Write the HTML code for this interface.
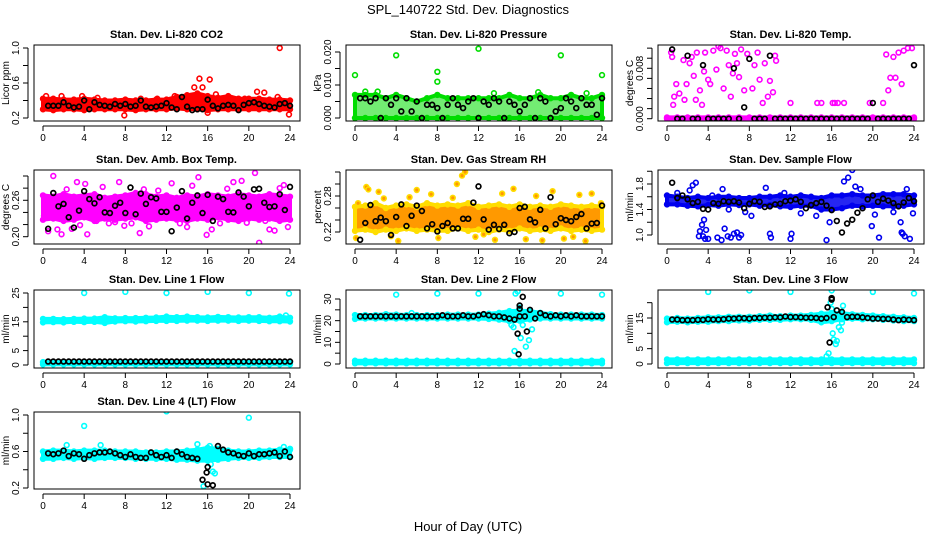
<!DOCTYPE html>
<html><head><meta charset="utf-8"><title>SPL_140722 Std. Dev. Diagnostics</title>
<style>
html,body{margin:0;padding:0;background:#fff;}
svg{display:block;font-family:"Liberation Sans",sans-serif;}
</style></head>
<body>
<svg id="chart" width="936" height="540" viewBox="0 0 936 540" xmlns="http://www.w3.org/2000/svg">
<text x="468" y="14" text-anchor="middle" font-size="13">SPL_140722  Std. Dev. Diagnostics</text>
<text x="468" y="531" text-anchor="middle" font-size="13">Hour of Day (UTC)</text>
</svg>
<script>
// ---- data (hourly bands lo/hi at h=0..24, black series at h=0.5..24 step 0.5, extra colored points x/y) ----
const hoursBand = [0,1,2,3,4,5,6,7,8,9,10,11,12,13,14,15,16,17,18,19,20,21,22,23,24];
const xTicks = [0,4,8,12,16,20,24];

const co2Lo = [0.30,0.29,0.30,0.30,0.29,0.30,0.30,0.30,0.30,0.29,0.30,0.30,0.30,0.31,0.30,0.30,0.29,0.30,0.30,0.30,0.30,0.30,0.30,0.30,0.30];
const co2Hi = [0.42,0.42,0.41,0.41,0.42,0.41,0.40,0.40,0.41,0.40,0.40,0.41,0.41,0.44,0.46,0.48,0.45,0.43,0.45,0.42,0.42,0.42,0.41,0.41,0.40];
const co2ExX = [0.3,1.8,3.8,7.9,9.5,12.8,14.7,15.2,15.5,16.2,16.0,16.8,19.6,20.8,21.5,23.0,23.9,22.8,11.1,5.3];
const co2ExY = [0.45,0.45,0.45,0.23,0.42,0.45,0.55,0.65,0.55,0.64,0.26,0.47,0.42,0.50,0.49,1.0,0.24,0.44,0.42,0.43];
const co2Black = [0.34,0.34,0.34,0.38,0.34,0.32,0.33,0.40,0.30,0.38,0.35,0.34,0.33,0.36,0.34,0.36,0.33,0.34,0.40,0.33,0.32,0.33,0.34,0.37,0.32,0.30,0.44,0.33,0.29,0.30,0.30,0.41,0.34,0.31,0.34,0.35,0.34,0.29,0.35,0.37,0.38,0.36,0.34,0.33,0.32,0.36,0.37,0.34];

const presLo = [0,0,0,0,0,0,0,0,0,0,0,0,0,0,0,0,0,0,0,0,0,0,0,0,0];
const presHi = [0.007,0.007,0.007,0.006,0.007,0.006,0.005,0.006,0.007,0.006,0.006,0.006,0.006,0.006,0.006,0.007,0.006,0.006,0.007,0.006,0.006,0.007,0.006,0.006,0.007];
const presExX = [0,4,8,8,12,20,24,1,2.2,13.5,17.8,22.5];
const presExY = [0.013,0.019,0.014,0.011,0.021,0.019,0.013,0.008,0.008,0.0075,0.0078,0.0075];
const presBlack = [0.006,0.006,0.005,0.006,0.000,0.006,0.004,0.006,0.002,0.006,0.002,0.005,0.000,0.004,0.004,0.003,0.000,0.004,0.006,0.004,0.003,0.005,0.006,0.000,0.005,0.004,0.006,0.005,0.000,0.005,0.004,0.002,0.004,0.006,0.000,0.006,0.005,0.000,0.002,0.003,0.006,0.005,0.003,0.006,0.004,0.004,0.001,0.006];

const tempLo = [0,0,0,0,0,0,0,0,0,0,0,0,0,0,0,0,0,0,0,0,0,0,0,0,0];
const tempHi = [0.0002,0.0002,0.0002,0.0002,0.0002,0.0002,0.0002,0.0002,0.0002,0.0002,0.0002,0.0002,0.0002,0.0002,0.0002,0.0002,0.0002,0.0002,0.0002,0.0002,0.0002,0.0002,0.0002,0.0002,0.0002];
const tempExX = [0.4,0.5,0.6,0.7,0.9,1.2,1.6,1.7,1.9,2.2,2.4,2.6,2.8,2.9,3.2,3.4,3.6,3.7,4.0,4.2,4.5,4.8,5.0,5.2,5.5,5.8,6.0,6.2,6.4,6.6,6.8,7.0,7.2,7.5,7.8,8.3,8.5,8.8,9.0,9.3,9.5,9.8,10.0,10.3,10.5,10.6,12.0,14.6,15.0,16.1,16.3,16.6,17.2,19.7,21.0,21.3,21.5,21.7,22.0,22.2,22.5,22.8,23.0,23.4,23.8];
const tempExY = [0.0105,0.0098,0.0022,0.0035,0.0055,0.004,0.0093,0.003,0.0055,0.0088,0.0098,0.0068,0.003,0.0105,0.0045,0.0022,0.0075,0.0105,0.0062,0.0055,0.0108,0.0078,0.0115,0.0112,0.0048,0.0108,0.0085,0.0035,0.0072,0.0103,0.0088,0.0066,0.011,0.0045,0.0103,0.0048,0.0085,0.0105,0.0062,0.0025,0.0088,0.0035,0.006,0.0042,0.010,0.0092,0.0025,0.0025,0.0025,0.0025,0.0025,0.0025,0.0025,0.0025,0.0025,0.0102,0.0045,0.0065,0.0098,0.0065,0.0105,0.0055,0.0108,0.0112,0.0112];
const tempBlack = [0.011,0,0,0.010,0,0,0.0085,0,0,0,0,0,0.008,0,0.0018,0.0095,0,0,0,0.010,0,0,0,0,0,0,0,0,0,0,0,0,0,0,0,0,0,0,0,0.0025,0,0,0,0,0,0,0,0.0085];

const boxLo = [0.228,0.230,0.226,0.228,0.232,0.226,0.230,0.228,0.230,0.232,0.226,0.228,0.230,0.228,0.226,0.230,0.228,0.232,0.228,0.226,0.230,0.228,0.230,0.226,0.228];
const boxHi = [0.268,0.266,0.270,0.266,0.268,0.270,0.264,0.266,0.268,0.272,0.270,0.266,0.268,0.264,0.268,0.266,0.270,0.268,0.266,0.270,0.268,0.266,0.270,0.268,0.266];
const boxExX = [0.1,0.5,1.0,1.4,1.8,2.3,2.8,3.3,3.6,4.1,4.3,5.2,5.8,6.4,7.0,7.4,7.9,8.6,9.4,9.8,10.3,11.2,11.7,12.5,13.3,14.0,14.5,15.1,15.9,16.4,17.2,17.9,18.5,19.3,19.8,20.6,21.0,21.6,22.0,22.5,23.0,23.4,23.8];
const boxExY = [0.234,0.209,0.300,0.212,0.204,0.278,0.213,0.290,0.219,0.287,0.204,0.226,0.282,0.222,0.224,0.290,0.218,0.222,0.206,0.278,0.217,0.276,0.240,0.288,0.222,0.216,0.284,0.298,0.203,0.212,0.222,0.279,0.290,0.292,0.223,0.305,0.190,0.226,0.212,0.210,0.280,0.285,0.216];
const boxBlack = [0.213,0.272,0.250,0.254,0.232,0.215,0.243,0.275,0.262,0.255,0.265,0.240,0.239,0.251,0.256,0.239,0.281,0.237,0.271,0.254,0.265,0.263,0.241,0.241,0.209,0.248,0.275,0.230,0.256,0.268,0.239,0.269,0.226,0.266,0.262,0.241,0.240,0.273,0.266,0.250,0.278,0.279,0.256,0.249,0.250,0.270,0.244,0.282];

const rhLo = [0.222,0.224,0.220,0.224,0.222,0.226,0.222,0.224,0.222,0.222,0.226,0.222,0.224,0.220,0.224,0.222,0.226,0.222,0.224,0.222,0.226,0.222,0.224,0.222,0.224];
const rhHi = [0.262,0.264,0.268,0.260,0.264,0.266,0.262,0.268,0.264,0.266,0.264,0.268,0.262,0.264,0.266,0.262,0.266,0.262,0.264,0.262,0.266,0.264,0.262,0.264,0.262];
const rhExX = [0.1,0.3,1.1,1.3,2.3,2.8,3.5,4.2,5.3,6.0,7.4,8.1,9.5,9.9,10.4,10.7,11.7,12.5,13.6,14.3,15.4,16.6,17.6,18.2,19.2,20.3,21.2,21.8,22.4,23.0,23.9];
const rhExY = [0.210,0.268,0.295,0.291,0.287,0.276,0.213,0.205,0.278,0.290,0.283,0.210,0.277,0.300,0.314,0.320,0.212,0.216,0.207,0.284,0.292,0.208,0.280,0.206,0.288,0.209,0.212,0.282,0.205,0.284,0.268];
const rhBlack = [0.207,0.235,0.265,0.238,0.244,0.238,0.215,0.245,0.266,0.230,0.247,0.264,0.255,0.226,0.233,0.221,0.230,0.235,0.226,0.226,0.242,0.242,0.269,0.296,0.241,0.224,0.232,0.225,0.232,0.218,0.220,0.260,0.262,0.241,0.236,0.257,0.226,0.278,0.233,0.243,0.240,0.238,0.245,0.250,0.226,0.234,0.235,0.264];

const flowLo = [1.48,1.48,1.46,1.45,1.47,1.46,1.48,1.47,1.48,1.46,1.47,1.45,1.44,1.46,1.46,1.40,1.40,1.42,1.46,1.45,1.46,1.45,1.45,1.46,1.48];
const flowHi = [1.62,1.60,1.58,1.60,1.58,1.60,1.60,1.58,1.58,1.60,1.60,1.62,1.60,1.62,1.60,1.58,1.62,1.62,1.64,1.62,1.62,1.64,1.64,1.64,1.62];
const flowExX = [1.0,2.2,2.5,2.8,3.1,3.2,3.4,3.5,3.6,3.7,3.8,4.0,4.9,5.3,5.6,5.9,6.2,6.5,6.8,7.0,7.2,6.0,5.4,7.6,8.2,9.6,10.0,10.1,12.0,12.1,14.5,15.5,15.8,17.2,17.6,18.0,18.3,18.8,19.9,20.2,20.6,22.0,22.7,22.8,22.9,23.1,23.3,23.6,23.9,4.4,11.4,13.0];
const flowExY = [1.66,1.70,1.78,1.82,0.98,1.06,1.16,0.98,1.24,0.94,1.08,0.94,0.96,0.92,1.10,0.98,0.96,1.02,1.04,0.96,1.00,1.40,1.72,1.36,1.30,1.74,1.02,0.96,0.94,1.02,1.30,0.92,1.20,1.84,1.90,2.02,1.76,1.72,1.14,1.32,0.96,1.36,1.20,1.04,1.02,0.98,1.72,0.94,1.34,1.62,1.66,1.34];
const flowBlack = [1.82,1.58,1.62,1.56,1.50,1.52,1.41,1.40,1.50,1.49,1.53,1.52,1.53,1.51,1.42,1.49,1.53,1.52,1.44,1.45,1.48,1.49,1.53,1.54,1.56,1.52,1.42,1.47,1.50,1.52,1.46,1.39,1.22,1.04,1.18,1.24,1.35,1.42,1.56,1.62,1.52,1.57,1.54,1.50,1.45,1.51,1.58,1.53];

const l1Lo = [14.8,14.9,14.8,15.0,14.9,15.0,14.6,15.1,15.2,15.1,15.2,15.3,15.3,15.3,15.4,15.4,15.3,15.4,15.4,15.3,15.4,15.3,15.2,15.2,15.1];
const l1Hi = [16.0,16.0,15.9,16.0,16.1,16.1,16.6,16.2,16.3,16.3,16.4,16.5,16.8,16.6,16.8,16.6,16.5,16.7,16.6,16.5,16.6,16.6,16.4,16.8,16.4];
const l1BaseLo = [0.2,0.2,0.2,0.2,0.2,0.2,0.2,0.2,0.2,0.2,0.2,0.2,0.2,0.2,0.2,0.2,0.2,0.2,0.2,0.2,0.2,0.2,0.2,0.2,0.2];
const l1BaseHi = [1.0,1.0,1.0,1.0,1.0,1.0,1.0,1.0,1.0,1.0,1.0,1.0,1.0,1.0,1.0,1.0,1.0,1.0,1.0,1.0,1.0,1.0,1.0,1.0,1.0];
const l1ExX = [4,8,12,16,20,23.9,23.6];
const l1ExY = [25.0,25.4,25.0,25.4,25.0,24.8,17.2];
const l1Black = [1.2,1.2,1.2,1.2,1.2,1.2,1.2,1.2,1.2,1.2,1.2,1.2,1.2,1.2,1.2,1.2,1.2,1.2,1.2,1.2,1.2,1.2,1.2,1.2,1.2,1.2,1.2,1.2,1.2,1.2,1.2,1.2,1.2,1.2,1.2,1.2,1.2,1.2,1.2,1.2,1.2,1.2,1.2,1.2,1.2,1.2,1.2,1.2];

const l2Lo = [20.8,21.0,21.0,21.0,21.0,21.0,21.0,21.0,21.0,21.0,21.0,21.0,21.0,20.8,20.5,19.8,20.0,20.6,21.0,21.0,21.0,21.0,21.0,21.0,21.0];
const l2Hi = [22.6,22.6,22.6,23.0,22.8,22.6,22.6,22.6,22.6,22.8,22.8,22.8,22.8,23.2,23.6,24.4,24.6,24.4,23.6,23.0,22.8,22.8,22.8,22.8,22.6];
const l2BaseLo = [0.3,0.3,0.3,0.3,0.3,0.3,0.3,0.3,0.3,0.3,0.3,0.3,0.3,0.3,0.3,0.3,0.3,0.3,0.3,0.3,0.3,0.3,0.3,0.3,0.3];
const l2BaseHi = [1.5,1.5,1.5,1.5,1.5,1.5,1.5,1.5,1.5,1.5,1.5,1.5,1.5,1.5,1.5,1.5,1.5,1.5,1.5,1.5,1.5,1.5,1.5,1.5,1.5];
const l2ExX = [4,8,12,15.6,15.8,16.0,16.3,16.6,16.9,17.2,15.5,15.2,15.4,16.1,20,24,5.5];
const l2ExY = [32,32.5,32.5,32.5,33.5,26,18,8,11,16,6,18,17,12,32.5,32,23.5];
const l2Black = [22,22,22,22,22,22,22,22,22,22,22,22,22,22,22,22,22.5,22,22,22,22.5,22,22,22.5,23,22.5,22,22,21.5,21,20.5,22,22,25,21,23.5,22.5,22,22.5,22,22.5,22,22.5,22,22,22,22,22];
const l2BkX = [15.8,15.9,16.0,16.0,16.3,16.7];
const l2BkY = [14,4.5,27,25.5,31,15];

const l3Lo = [13.6,13.8,13.6,13.8,13.8,14.0,14.0,14.2,14.2,14.4,14.4,14.4,14.6,14.6,14.4,13.6,14.0,14.6,14.8,14.6,14.6,14.4,14.2,14.0,14.0];
const l3Hi = [14.8,15.0,14.8,15.0,15.2,15.2,15.4,15.4,15.4,15.6,15.8,15.6,15.8,15.8,16.0,16.4,16.6,16.6,16.2,16.0,15.8,15.6,15.4,15.2,15.0];
const l3BaseLo = [0.3,0.3,0.3,0.3,0.3,0.3,0.3,0.3,0.3,0.3,0.3,0.3,0.3,0.3,0.3,0.3,0.3,0.3,0.3,0.3,0.3,0.3,0.3,0.3,0.3];
const l3BaseHi = [1.5,1.5,1.5,1.5,1.5,1.5,1.5,1.5,1.5,1.5,1.5,1.5,1.5,1.5,1.5,1.5,1.5,1.5,1.5,1.5,1.5,1.5,1.5,1.5,1.5];
const l3ExX = [4,8,12,16,20,24,15.5,15.7,16.1,16.2,16.4,16.5,16.7,16.9,17.0,17.1,15.9,16.0];
const l3ExY = [23.5,24,23.5,24,23.5,23,2.5,3.5,10,8,6.5,7.5,12,11,13.5,19,20,18];
const l3Black = [14.5,14.5,14.3,14.3,14.3,14.4,14.4,14.6,14.5,14.5,14.6,14.8,14.8,14.9,14.9,14.8,15.0,15.0,15.1,15.1,15.2,15.2,15.5,15.3,15.3,15.2,15.1,15.1,15.0,14.8,15,21.5,17.5,17,15.3,15.4,15.4,15.2,15.0,14.8,14.8,14.7,14.7,14.5,14.3,14.5,14.4,14.3];
const l3BkX = [15.6,15.8,16.0,16.2];
const l3BkY = [18.5,7,21,15.3];

const l4Lo = [0.52,0.52,0.53,0.52,0.53,0.52,0.53,0.53,0.53,0.52,0.52,0.52,0.52,0.51,0.51,0.50,0.50,0.51,0.52,0.53,0.53,0.53,0.54,0.54,0.54];
const l4Hi = [0.60,0.61,0.61,0.60,0.61,0.61,0.61,0.60,0.60,0.60,0.59,0.59,0.60,0.60,0.61,0.62,0.64,0.63,0.61,0.60,0.60,0.61,0.61,0.62,0.62];
const l4ExX = [4,12,20,2.3,5.6,15.0,15.6,16.3,16.5,16.7,15.8,16.2,23.4,24.0];
const l4ExY = [0.88,1.04,0.97,0.67,0.67,0.68,0.22,0.46,0.38,0.36,0.60,0.66,0.65,0.63];
const l4Black = [0.58,0.57,0.58,0.61,0.55,0.58,0.57,0.52,0.56,0.58,0.59,0.59,0.60,0.58,0.56,0.54,0.57,0.54,0.53,0.53,0.59,0.56,0.54,0.56,0.53,0.60,0.57,0.54,0.53,0.52,0.29,0.24,0.23,0.66,0.62,0.59,0.58,0.56,0.55,0.58,0.55,0.57,0.57,0.58,0.59,0.55,0.60,0.54];
const l4BkX = [15.9,16.0];
const l4BkY = [0.37,0.43];

// axis tick arrays
const co2Ticks=[0.2,0.4,0.6,0.8,1.0], co2Labels=["0.2","","0.6","","1.0"];
const presTicks=[0,0.005,0.01,0.015,0.02], presLabels=["0.000","","0.010","","0.020"];
const tempTicks=[0,0.0016,0.0032,0.0048,0.0064,0.008,0.0096,0.0112], tempLabels=["0.000","","","","","0.008","",""];
const boxTicks=[0.20,0.22,0.24,0.26,0.28,0.30], boxLabels=["0.20","","","0.26","",""];
const rhTicks=[0.22,0.24,0.26,0.28,0.30,0.32], rhLabels=["0.22","","","0.28","",""];
const flowTicks=[1.0,1.2,1.4,1.6,1.8,2.0], flowLabels=["1.0","","1.4","","1.8",""];
const l1Ticks=[0,5,10,15,20,25], l1Labels=["0","5","","15","","25"];
const l2Ticks=[0,5,10,15,20,25,30], l2Labels=["0","","10","","20","","30"];
const l3Ticks=[0,5,10,15,20], l3Labels=["0","5","","15",""];
const l4Ticks=[0.2,0.4,0.6,0.8,1.0], l4Labels=["0.2","","0.6","","1.0"];

// ---- layout ----
const colX0=[43,355,667], XW=247;
const rows=[[45,121],[170,244],[290,368],[412,489]];
const panels=[
 {name:"co2",title:"Stan. Dev. Li-820 CO2",yl:"Licor ppm",c:0,r:0,v1:0.2,p1:118,v2:1.0,p2:48,col:"#ff0000",bands:[[co2Lo,co2Hi]],ex:[co2ExX,co2ExY],bk:co2Black,t:co2Ticks,tl:co2Labels},
 {name:"pressure",title:"Stan. Dev. Li-820 Pressure",yl:"kPa",c:1,r:0,v1:0,p1:118,v2:0.02,p2:52,col:"#00dd00",op:0.55,bands:[[presLo,presHi]],ex:[presExX,presExY],bk:presBlack,t:presTicks,tl:presLabels},
 {name:"temp",title:"Stan. Dev. Li-820 Temp.",yl:"degrees C",c:2,r:0,v1:0,p1:118.7,v2:0.008,p2:68.3,col:"#ff00ff",bands:[[tempLo,tempHi]],ex:[tempExX,tempExY],bk:tempBlack,t:tempTicks,tl:tempLabels},
 {name:"box-temp",title:"Stan. Dev. Amb. Box Temp.",yl:"degrees C",c:0,r:1,v1:0.20,p1:236.7,v2:0.30,p2:176,col:"#ff00ff",bands:[[boxLo,boxHi]],ex:[boxExX,boxExY],bk:boxBlack,t:boxTicks,tl:boxLabels},
 {name:"rh",title:"Stan. Dev. Gas Stream RH",yl:"percent",c:1,r:1,v1:0.22,p1:232,v2:0.28,p2:196,col:"#ff9900",ring:"#ffdd00",bands:[[rhLo,rhHi]],ex:[rhExX,rhExY],bk:rhBlack,t:rhTicks,tl:rhLabels},
 {name:"sample-flow",title:"Stan. Dev. Sample Flow",yl:"ml/min",c:2,r:1,v1:1.0,p1:235,v2:1.8,p2:184,col:"#0000ee",op:0.85,bands:[[flowLo,flowHi]],ex:[flowExX,flowExY],bk:flowBlack,t:flowTicks,tl:flowLabels},
 {name:"line1",title:"Stan. Dev. Line 1 Flow",yl:"ml/min",c:0,r:2,v1:0,p1:365,v2:25,p2:293,col:"#00ffff",bands:[[l1Lo,l1Hi],[l1BaseLo,l1BaseHi]],ex:[l1ExX,l1ExY],bk:l1Black,t:l1Ticks,tl:l1Labels},
 {name:"line2",title:"Stan. Dev. Line 2 Flow",yl:"ml/min",c:1,r:2,v1:0,p1:364,v2:30,p2:299,col:"#00ffff",bands:[[l2Lo,l2Hi],[l2BaseLo,l2BaseHi]],ex:[l2ExX,l2ExY],bk:l2Black,bkx:l2BkX,bky:l2BkY,t:l2Ticks,tl:l2Labels},
 {name:"line3",title:"Stan. Dev. Line 3 Flow",yl:"ml/min",c:2,r:2,v1:0,p1:364,v2:15,p2:318,col:"#00ffff",bands:[[l3Lo,l3Hi],[l3BaseLo,l3BaseHi]],ex:[l3ExX,l3ExY],bk:l3Black,bkx:l3BkX,bky:l3BkY,t:l3Ticks,tl:l3Labels},
 {name:"line4",title:"Stan. Dev. Line 4 (LT) Flow",yl:"ml/min",c:0,r:3,v1:0.2,p1:488,v2:1.0,p2:415,col:"#00ffff",bands:[[l4Lo,l4Hi]],ex:[l4ExX,l4ExY],bk:l4Black,bkx:l4BkX,bky:l4BkY,t:l4Ticks,tl:l4Labels}
];
const NS="http://www.w3.org/2000/svg";
const svg=document.getElementById("chart");
function mk(tag,attrs,parent){const e=document.createElementNS(NS,tag);for(const k in attrs)e.setAttribute(k,attrs[k]);(parent||svg).appendChild(e);return e;}
panels.forEach(p=>{
  const x0=colX0[p.c], top=rows[p.r][0], bot=rows[p.r][1];
  const xs=h=>x0+h/24*XW;
  const ys=v=>p.p1+(v-p.v1)*(p.p2-p.p1)/(p.v2-p.v1);
  const g=mk("g",{});
  
  
  const clip=mk("clipPath",{id:"clip-"+p.name},g);
  mk("rect",{x:x0-9,y:top,width:XW+19,height:bot-top},clip);
  const plot=mk("g",{"clip-path":"url(#clip-"+p.name+")"},g);
  p.bands.forEach(b=>{
    const lo=b[0],hi=b[1];
    let d="";
    hoursBand.forEach((h,i)=>{d+=(i?"L":"M")+xs(h).toFixed(1)+","+ys(hi[i]).toFixed(1);});
    for(let i=hoursBand.length-1;i>=0;i--)d+="L"+xs(hoursBand[i]).toFixed(1)+","+ys(lo[i]).toFixed(1);
    const band=mk("path",{d:d+"Z",fill:p.col,stroke:p.ring||p.col,"stroke-width":4,"stroke-linejoin":"round","fill-opacity":p.op||1},plot);
    
    
    hoursBand.forEach((h,i)=>{
      [lo[i],hi[i]].forEach(v=>{
        const c=mk("circle",{cx:xs(h),cy:ys(v),r:2.4,fill:"none",stroke:p.ring||p.col,"stroke-width":1.6},plot);
        
        
      });
    });
  });
  p.ex[0].forEach((h,i)=>{
    const c=mk("circle",{cx:xs(h),cy:ys(p.ex[1][i]),r:2.4,fill:p.ring?p.col:"none",stroke:p.ring||p.col,"stroke-width":1.6},plot);
    
    
  });
  p.bk.forEach((v,i)=>{
    const c=mk("circle",{cx:xs((i+1)*0.5),cy:ys(v),r:2.4,fill:"none",stroke:"#000","stroke-width":1.7},plot);
    
    
  });
  if(p.bkx){
    p.bkx.forEach((h,i)=>{
      const c=mk("circle",{cx:xs(h),cy:ys(p.bky[i]),r:2.4,fill:"none",stroke:"#000","stroke-width":1.7},plot);
      
      
    });
  }
  const box=mk("rect",{x:x0-9,y:top,width:XW+19,height:bot-top,fill:"none",stroke:"#000","stroke-width":1},g);
  
  
  mk("line",{x1:xs(0),x2:xs(24),y1:bot+5,y2:bot+5,stroke:"#000"},g);
  xTicks.forEach(t=>{
    mk("line",{x1:xs(t),x2:xs(t),y1:bot+5,y2:bot+10,stroke:"#000"},g);
    const tx=mk("text",{x:xs(t),y:bot+20,"text-anchor":"middle","font-size":10},g);
    tx.textContent=t;
    
    
  });
  const ax=x0-15;
  mk("line",{x1:ax,x2:ax,y1:ys(p.t[0]),y2:ys(p.t[p.t.length-1]),stroke:"#000"},g);
  p.t.forEach((t,i)=>{
    const y=ys(t);
    mk("line",{x1:ax-5,x2:ax,y1:y,y2:y,stroke:"#000"},g);
    if(p.tl[i]){
      const tx=mk("text",{x:ax-9,y:y,"text-anchor":"middle","font-size":10,transform:`rotate(-90 ${ax-9} ${y})`},g);
      tx.textContent=p.tl[i];
      
      
    }
  });
  const yt=mk("text",{x:x0-34,y:(top+bot)/2,"text-anchor":"middle","font-size":10,transform:`rotate(-90 ${x0-34} ${(top+bot)/2})`},g);
  yt.textContent=p.yl;
  
  
  const tt=mk("text",{x:x0+XW/2,y:top-7,"text-anchor":"middle","font-size":11,"font-weight":"bold"},g);
  tt.textContent=p.title;
  
  
});
</script>
</body></html>
